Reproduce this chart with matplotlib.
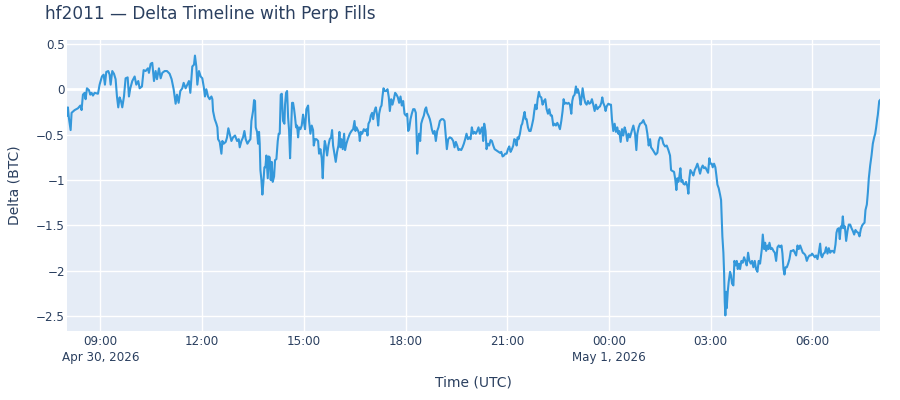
import matplotlib
matplotlib.use("Agg")
import matplotlib.pyplot as plt
from datetime import datetime, timedelta

# minutes after 08:00 UTC on Apr 30, 2026 and net delta (BTC)
start_time = datetime(2026, 4, 30, 8, 0)

minutes = [
    # 08:00 - 12:15
    1, 2.6, 4.4, 7.4, 9.1, 14.5, 20.4, 24.5, 26.8, 29.2, 32.2, 33.9, 36.3, 39.8,
    42.2, 44.5, 46.9, 49.9, 55.8, 58.7, 62.8, 65.8, 68.1, 70.5, 74.0, 76.4, 78.2,
    81.1, 84.1, 87.0, 89.4, 91.7, 94.1, 96.5, 98.8, 101.8, 104.7, 108.3, 110.6,
    113.0, 116.5, 120.7, 123.6, 127.1, 129.5, 133.6, 136.6, 140.1, 144.2, 146.0,
    149.0, 151.9, 154.9, 157.8, 160.2, 163.7, 166.7, 169.6, 173.8, 177.9, 182.6,
    186.1, 189.7, 193.2, 195.6, 198.5, 201.5, 205.0, 207.4, 210.9, 214.5, 216.8,
    219.2, 222.7, 225.7, 227.4, 229.8, 231.6, 234.5, 237.5, 240.4, 243.4, 245.1,
    247.5, 250.5, 253.4,
    # 12:15 - 16:20
    256.5, 258.2, 259.4, 262.4, 265.3, 267.1, 268.3, 271.2, 274.2, 275.9, 278.3,
    281.8, 284.2, 286.5, 288.9, 291.9, 294.8, 298.3, 301.9, 304.8, 306.6, 309.6,
    312.5, 314.9, 317.2, 320.2, 323.1, 325.5, 327.3, 330.2, 332.0, 333.7, 334.9,
    337.3, 339.1, 340.8, 342.0, 343.2, 345.0, 346.7, 348.5, 350.3, 352.0, 353.8,
    356.2, 357.9, 359.7, 361.5, 363.2, 365.0, 367.4, 369.1, 371.5, 373.9, 375.6,
    377.4, 379.2, 381.0, 383.3, 385.7, 386.8, 388.6, 390.4, 392.2, 393.9, 395.7,
    397.5, 399.2, 401.0, 402.8, 404.5, 406.3, 408.1, 409.9, 411.6, 414.0, 416.3,
    418.7, 420.5, 422.2, 424.6, 427.6, 429.3, 431.7, 434.0, 436.4, 437.6, 439.9,
    442.3, 445.3, 447.0, 449.4, 451.7, 453.5, 455.3, 457.1, 458.8, 461.2, 463.5,
    465.9, 468.3, 470.0, 471.8, 474.2, 476.5, 478.9, 481.2, 483.0, 484.8, 486.6,
    488.9, 491.3, 493.0, 495.4, 497.8, 500.1,
    # 16:20 - 20:30
    501.4, 504.4, 507.3, 509.7, 511.4, 513.2, 516.2, 517.9, 519.1, 520.9, 523.2,
    526.2, 528.5, 530.9, 532.7, 534.4, 536.8, 538.6, 540.9, 542.7, 545.1, 547.4,
    549.8, 551.6, 553.3, 555.7, 557.5, 559.2, 561.0, 563.4, 565.7, 568.1, 570.4,
    572.2, 574.6, 576.9, 579.3, 581.6, 584.0, 586.4, 588.7, 591.1, 593.4, 595.8,
    598.2, 600.5, 602.9, 604.7, 606.4, 608.8, 611.1, 613.5, 615.9, 618.2, 619.4,
    620.6, 622.4, 624.1, 625.9, 627.7, 630.0, 632.4, 634.7, 636.5, 638.3, 640.6,
    643.0, 644.8, 646.5, 648.9, 651.3, 653.6, 656.0, 658.3, 660.7, 663.7, 666.6,
    669.0, 671.3, 673.1, 675.5, 678.4, 681.4, 684.3, 686.7, 689.0, 691.4, 693.7,
    696.1, 698.5, 700.8, 703.2, 705.5, 707.9, 710.3, 712.6, 715.0, 717.3, 719.7,
    722.1, 724.4, 726.8, 729.1, 731.5, 733.9, 735.6, 737.4, 739.2, 741.5, 743.3,
    745.6, 748.0,
    # 20:30 - 00:40
    750.5, 752.8, 755.2, 757.6, 759.9, 762.3, 764.6, 767.0, 769.4, 771.7, 774.1,
    776.4, 778.8, 781.2, 783.5, 785.9, 788.2, 790.6, 792.4, 794.7, 796.5, 798.3,
    800.0, 802.4, 804.8, 806.5, 808.9, 810.7, 812.4, 814.2, 816.6, 818.9, 821.3,
    823.6, 826.0, 827.8, 829.5, 831.9, 833.7, 836.0, 837.8, 840.2, 842.5, 844.9,
    847.2, 849.6, 852.0, 854.3, 856.7, 859.0, 861.4, 863.8, 866.1, 868.5, 870.8,
    873.2, 875.6, 877.9, 879.7, 881.5, 883.8, 886.2, 888.5, 890.9, 893.3, 895.0,
    896.8, 899.2, 901.5, 903.3, 905.1, 907.4, 909.8, 911.6, 913.3, 915.7, 918.0,
    920.4, 922.8, 925.1, 927.5, 929.8, 932.2, 934.6, 936.9, 939.3, 941.6, 944.0,
    946.4, 948.1, 949.9, 952.3, 954.0, 955.8, 958.8, 961.7, 963.5, 965.2, 967.6,
    970.0, 972.3, 974.7, 976.5, 978.2, 980.6, 983.0, 985.3, 987.7, 990.0, 992.4,
    994.7, 997.1,
    # 00:40 - 04:30
    1000.2, 1003.1, 1006.1, 1008.4, 1010.2, 1012.5, 1014.9, 1017.9, 1020.8,
    1023.2, 1025.5, 1027.9, 1030.2, 1032.6, 1034.4, 1036.7, 1039.7, 1042.6,
    1045.6, 1048.0, 1050.3, 1053.8, 1056.2, 1059.2, 1062.1, 1065.1, 1068.0,
    1069.8, 1072.1, 1075.1, 1077.4, 1079.2, 1081.0, 1082.8, 1084.5, 1086.3,
    1088.1, 1089.8, 1091.6, 1094.0, 1096.3, 1098.7, 1100.5, 1102.2, 1104.0,
    1107.0, 1109.3, 1111.7, 1114.0, 1116.4, 1118.7, 1121.1, 1123.5, 1125.8,
    1128.2, 1130.5, 1132.9, 1135.3, 1137.6, 1139.4, 1141.8, 1143.5, 1145.9,
    1148.2, 1150.0, 1151.8, 1154.1, 1156.5, 1158.3, 1159.5, 1160.6, 1162.4,
    1163.6, 1164.8, 1165.9, 1167.1, 1168.3, 1170.1, 1171.8, 1174.2, 1176.0,
    1177.7, 1180.1, 1181.9, 1184.2, 1186.0, 1187.8, 1190.1, 1191.9, 1194.3,
    1196.6, 1199.0, 1201.3, 1203.7, 1206.1, 1208.4, 1210.8, 1213.1, 1215.5,
    1217.9, 1220.2, 1222.6, 1224.9, 1227.3,
    # 04:30 - 08:00
    1230.4, 1232.1, 1234.5, 1236.3, 1238.0, 1240.4, 1242.2, 1243.9, 1246.3,
    1248.6, 1251.0, 1253.4, 1255.7, 1258.1, 1260.4, 1262.8, 1265.2, 1266.9,
    1268.7, 1270.5, 1272.2, 1274.6, 1277.0, 1279.3, 1281.7, 1284.0, 1286.4,
    1288.8, 1291.1, 1293.5, 1295.8, 1298.2, 1300.6, 1302.9, 1305.3, 1307.6,
    1310.0, 1312.4, 1314.7, 1317.1, 1319.4, 1321.8, 1324.2, 1326.5, 1328.9,
    1331.2, 1333.6, 1335.4, 1337.1, 1339.5, 1341.9, 1344.2, 1346.6, 1348.9,
    1351.3, 1353.7, 1356.0, 1358.4, 1360.7, 1362.5, 1364.3, 1366.6, 1368.4,
    1370.2, 1371.9, 1373.7, 1375.5, 1377.3, 1379.6, 1382.0, 1384.3, 1386.7,
    1389.1, 1391.4, 1393.8, 1396.1, 1398.5, 1400.9, 1403.2, 1405.6, 1407.9,
    1410.3, 1412.1, 1413.8, 1416.2, 1418.0, 1419.7, 1422.1, 1424.5, 1426.8,
    1429.2, 1431.0, 1432.7, 1434.5, 1435.7, 1436.9, 1438.1, 1439.5,
]

delta_btc = [
    # 08:00 - 12:15
    -0.29, -0.20, -0.32, -0.45, -0.26, -0.23, -0.21, -0.18, -0.23, -0.06, -0.04,
    -0.11, 0.01, -0.01, -0.06, -0.04, -0.07, -0.04, -0.05, 0.05, 0.14, 0.16, 0.05,
    0.19, 0.20, 0.16, 0.05, 0.20, 0.17, 0.11, -0.08, -0.20, -0.09, -0.13, -0.20,
    -0.08, 0.12, 0.13, -0.08, 0.01, 0.09, 0.14, 0.05, 0.09, 0.01, 0.03, 0.21, 0.20,
    0.23, 0.18, 0.28, 0.29, 0.09, 0.20, 0.11, 0.23, 0.12, 0.18, 0.20, 0.20, 0.17,
    0.11, 0.00, -0.16, -0.06, -0.15, -0.02, 0.01, 0.07, 0.01, 0.06, 0.09, -0.04,
    0.25, 0.27, 0.37, 0.25, 0.05, 0.20, 0.14, 0.12, 0.01, -0.08, 0.00, -0.08, -0.11,
    # 12:15 - 16:20
    -0.08, -0.11, -0.24, -0.33, -0.38, -0.42, -0.55, -0.58, -0.71, -0.57, -0.60,
    -0.58, -0.53, -0.43, -0.49, -0.57, -0.53, -0.51, -0.57, -0.55, -0.64, -0.57,
    -0.53, -0.46, -0.55, -0.60, -0.57, -0.55, -0.35, -0.24, -0.12, -0.13, -0.42,
    -0.47, -0.60, -0.47, -0.60, -0.89, -1.00, -1.16, -1.02, -0.86, -0.86, -0.73,
    -0.98, -0.74, -0.75, -1.00, -0.80, -1.02, -0.96, -0.78, -0.77, -0.57, -0.49,
    -0.49, -0.06, -0.05, -0.35, -0.38, -0.17, -0.04, -0.02, -0.31, -0.45, -0.76,
    -0.45, -0.15, -0.15, -0.22, -0.31, -0.42, -0.40, -0.53, -0.42, -0.44, -0.40,
    -0.28, -0.37, -0.44, -0.22, -0.18, -0.35, -0.49, -0.40, -0.45, -0.62, -0.55,
    -0.55, -0.57, -0.71, -0.66, -0.76, -0.98, -0.71, -0.57, -0.62, -0.73, -0.62,
    -0.55, -0.53, -0.45, -0.62, -0.71, -0.80, -0.69, -0.62, -0.47, -0.64, -0.55,
    -0.66, -0.49, -0.67, -0.60, -0.55, -0.51,
    # 16:20 - 20:30
    -0.49, -0.46, -0.44, -0.35, -0.46, -0.42, -0.46, -0.49, -0.57, -0.47, -0.49,
    -0.44, -0.46, -0.44, -0.51, -0.38, -0.35, -0.29, -0.26, -0.33, -0.24, -0.20,
    -0.29, -0.40, -0.27, -0.20, -0.18, -0.08, 0.01, -0.02, -0.02, 0.00, -0.09,
    -0.24, -0.11, -0.17, -0.11, -0.04, -0.06, -0.09, -0.15, -0.08, -0.18, -0.13,
    -0.27, -0.29, -0.27, -0.46, -0.44, -0.33, -0.27, -0.22, -0.22, -0.26, -0.46,
    -0.71, -0.57, -0.49, -0.57, -0.38, -0.33, -0.29, -0.22, -0.20, -0.26, -0.29,
    -0.33, -0.38, -0.44, -0.49, -0.46, -0.57, -0.46, -0.42, -0.35, -0.33, -0.33,
    -0.35, -0.53, -0.66, -0.55, -0.53, -0.54, -0.57, -0.64, -0.58, -0.62, -0.67,
    -0.66, -0.67, -0.64, -0.60, -0.55, -0.49, -0.55, -0.53, -0.55, -0.42, -0.49,
    -0.47, -0.49, -0.46, -0.42, -0.49, -0.44, -0.42, -0.57, -0.38, -0.46, -0.66,
    -0.60, -0.62,
    # 20:30 - 00:40
    -0.56, -0.57, -0.62, -0.66, -0.67, -0.68, -0.69, -0.70, -0.69, -0.74, -0.73,
    -0.71, -0.71, -0.66, -0.63, -0.69, -0.66, -0.62, -0.55, -0.56, -0.62, -0.53,
    -0.55, -0.49, -0.40, -0.38, -0.30, -0.25, -0.33, -0.33, -0.42, -0.46, -0.46,
    -0.40, -0.33, -0.24, -0.17, -0.22, -0.11, -0.03, -0.08, -0.09, -0.17, -0.13,
    -0.11, -0.22, -0.27, -0.22, -0.29, -0.29, -0.40, -0.38, -0.40, -0.37, -0.40,
    -0.44, -0.35, -0.24, -0.11, -0.16, -0.15, -0.16, -0.15, -0.17, -0.27, -0.13,
    -0.08, -0.06, 0.03, -0.04, 0.00, -0.06, -0.17, -0.09, 0.01, -0.09, -0.15,
    -0.17, -0.13, -0.16, -0.15, -0.11, -0.17, -0.24, -0.17, -0.22, -0.20, -0.19,
    -0.15, -0.09, -0.15, -0.19, -0.24, -0.19, -0.16, -0.17, -0.17, -0.33, -0.46,
    -0.38, -0.47, -0.42, -0.49, -0.46, -0.58, -0.44, -0.51, -0.42, -0.47, -0.57,
    -0.49, -0.53,
    # 00:40 - 04:30
    -0.46, -0.40, -0.49, -0.67, -0.49, -0.42, -0.38, -0.37, -0.34, -0.38, -0.40,
    -0.49, -0.62, -0.55, -0.64, -0.66, -0.69, -0.72, -0.70, -0.57, -0.53, -0.54,
    -0.60, -0.63, -0.62, -0.67, -0.73, -0.89, -0.90, -0.91, -1.00, -1.11, -0.98,
    -1.02, -0.96, -0.87, -1.02, -1.00, -1.04, -1.05, -1.02, -1.07, -1.15, -0.98,
    -0.89, -0.92, -0.95, -0.89, -0.86, -0.82, -0.87, -0.93, -0.87, -0.84, -0.87,
    -0.86, -0.89, -0.92, -0.76, -0.82, -0.82, -0.86, -0.82, -0.86, -0.95, -1.05,
    -1.09, -1.16, -1.22, -1.43, -1.62, -1.80, -2.01, -2.34, -2.49, -2.23, -2.41,
    -2.23, -2.12, -2.01, -2.05, -2.14, -2.16, -1.89, -1.94, -1.89, -1.98, -1.92,
    -1.98, -1.89, -1.91, -1.85, -1.89, -1.94, -1.80, -1.89, -1.92, -1.89, -1.96,
    -1.89, -1.98, -2.01, -1.89, -1.92,
    # 04:30 - 08:00
    -1.76, -1.60, -1.76, -1.69, -1.78, -1.72, -1.76, -1.69, -1.76, -1.75, -1.78,
    -1.80, -1.89, -1.74, -1.72, -1.74, -1.72, -1.81, -1.98, -2.04, -1.96, -1.96,
    -1.92, -1.87, -1.78, -1.78, -1.77, -1.80, -1.83, -1.72, -1.76, -1.72, -1.76,
    -1.80, -1.81, -1.83, -1.89, -1.85, -1.83, -1.83, -1.81, -1.83, -1.85, -1.83,
    -1.87, -1.80, -1.70, -1.83, -1.85, -1.81, -1.80, -1.74, -1.81, -1.75, -1.80,
    -1.78, -1.78, -1.80, -1.71, -1.58, -1.54, -1.53, -1.65, -1.51, -1.53, -1.40,
    -1.53, -1.51, -1.67, -1.56, -1.49, -1.49, -1.53, -1.56, -1.60, -1.55, -1.57,
    -1.58, -1.62, -1.54, -1.50, -1.48, -1.47, -1.33, -1.27, -1.14, -0.98, -0.84,
    -0.73, -0.60, -0.53, -0.49, -0.42, -0.33, -0.28, -0.20, -0.13, -0.12,
]

y_ticks = [0.5, 0, -0.5, -1, -1.5, -2, -2.5]

times = [start_time + timedelta(minutes=m) for m in minutes]

txt = '#2a3f5f'
plt.rcParams['font.family'] = ['DejaVu Sans']

fig = plt.figure(figsize=(9, 4), dpi=100)
ax = fig.add_axes([67 / 900, 1 - 331 / 400, 813 / 900, 291 / 400])
ax.set_facecolor('#e5ecf6')
for s in ax.spines.values():
    s.set_visible(False)

ax.plot(times, delta_btc, color='#3498db', linewidth=1.5, zorder=3)

# plotly-like autorange
lo, hi = min(delta_btc), max(delta_btc)
pad = (hi - lo) * 0.06
ax.set_ylim(lo - pad, hi + pad)
ax.set_xlim(times[0], times[-1])

ax.set_yticks(y_ticks)
ax.set_yticklabels([f"{v:g}".replace('-', '\u2212') for v in y_ticks])

# ticks every 3 hours, date under first tick and midnight
first = start_time.replace(minute=0) + timedelta(hours=(3 - start_time.hour % 3) % 3)
if first < times[0]:
    first += timedelta(hours=3)
xt = []
t = first
while t <= times[-1]:
    xt.append(t)
    t += timedelta(hours=3)
labels = []
for i, t in enumerate(xt):
    lab = t.strftime('%H:%M')
    if i == 0 or t.hour == 0:
        lab += f"\n{t:%b} {t.day}, {t.year}"
    labels.append(lab)
ax.set_xticks(xt)
ax.set_xticklabels(labels, linespacing=1.3)

ax.grid(True, color='white', linewidth=1, zorder=1)
ax.axhline(0, color='white', linewidth=2, zorder=2)
ax.set_axisbelow(True)
ax.tick_params(length=0, labelsize=8.6, colors=txt)
ax.tick_params(axis='x', pad=3)
ax.tick_params(axis='y', pad=1.5)

fig.text(45 / 900, 1 - 14 / 400, 'hf2011 \u2014 Delta Timeline with Perp Fills',
         fontsize=12.2, color=txt, ha='left', va='center')
fig.text(473 / 900, 1 - 382 / 400, 'Time (UTC)', fontsize=10, color=txt,
         ha='center', va='center')
fig.text(15 / 900, 1 - 185 / 400, 'Delta (BTC)', fontsize=10, color=txt,
         ha='center', va='center', rotation=90)

fig.savefig('out.png', dpi=100)
